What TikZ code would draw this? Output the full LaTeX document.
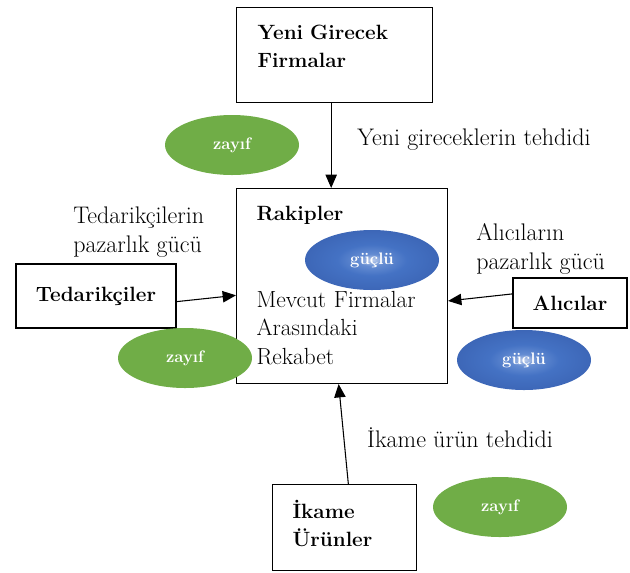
\documentclass[tikz,border=0pt]{standalone}
\usepackage{tikz}
\usetikzlibrary{shapes.geometric, arrows.meta}
\definecolor{zayifgreen}{RGB}{112,173,71}
\definecolor{gucluLight}{RGB}{190,206,236}
\definecolor{gucluSoft}{RGB}{100,140,210}
\definecolor{gucluMid}{RGB}{68,114,196}
\definecolor{gucluDeep}{RGB}{58,98,178}
\definecolor{gucluDark}{RGB}{42,76,145}
\pgfdeclareradialshading{gucluball}{\pgfpoint{0bp}{0bp}}{color(0bp)=(gucluLight); color(5bp)=(gucluSoft); color(13bp)=(gucluMid); color(30bp)=(gucluDeep); color(50bp)=(gucluDark)}
\tikzset{
    forcebox/.style={rectangle, draw=black, line width=0.8pt, inner ysep=0pt, align=left, font=\fontsize{15.5}{21.3}\selectfont\bfseries},
    rivalbox/.style={rectangle, draw=black, line width=0.8pt, inner ysep=0pt, align=left, font=\fontsize{17.5}{21.4}\selectfont},
    zayif/.style={ellipse, fill=zayifgreen, minimum width=100.5pt, minimum height=45pt, inner sep=0pt, text=white, font=\fontsize{12.5}{14}\selectfont\bfseries},
    guclu/.style={ellipse, shade, shading=gucluball, minimum width=100.5pt, minimum height=45pt, inner sep=0pt, text=white, font=\fontsize{12.5}{14}\selectfont\bfseries},
    forcelabel/.style={inner sep=0pt, align=left, font=\fontsize{18}{21.8}\selectfont},
    arrow/.style={line width=0.8pt, -{Triangle[length=10pt, width=8.5pt]}}
}
\begin{document}
\begin{tikzpicture}[x=0.75pt, y=-0.75pt]
    \useasboundingbox (0,0) rectangle (630,572);

    \node (yeni) [forcebox, anchor=north west, text width=115.5pt, inner xsep=15.75pt, text height=24pt, text depth=47.25pt] at (236,7) {Yeni Girecek\\Firmalar};
    \node (rakip) [rivalbox, anchor=north west, text width=128.25pt, inner xsep=15pt, text height=24pt, text depth=122.25pt] at (236,188) {{\fontsize{15.5}{21.4}\selectfont\bfseries Rakipler}\\[43.5pt]Mevcut Firmalar\\Arasındaki\\Rekabet};
    \node (tedarik) [forcebox, minimum width=120pt, minimum height=48pt, inner sep=0pt] at (96,296) {Tedarikçiler};
    \node (alici) [forcebox, minimum width=85.5pt, minimum height=37.5pt, inner sep=0pt] at (570,303) {Alıcılar};
    \node (ikame) [forcebox, anchor=north west, text width=78pt, inner xsep=15pt, text height=25.5pt, text depth=39pt] at (272,484) {İkame\\Ürünler};

    \draw [arrow] (yeni.-94) -- (yeni.-94 |- rakip.north);
    \draw [arrow] (tedarik.-4) -- (rakip.185);
    \draw [arrow] (alici.171) -- (rakip.-8);
    \draw [arrow] (ikame.85) -- (rakip.-92);

    \node (tehdit1) [forcelabel] at (474,140) {Yeni gireceklerin tehdidi};
    \node (pazarlik1) [forcelabel, anchor=west] at (73,232) {Tedarikçilerin\\pazarlık gücü};
    \node (pazarlik2) [forcelabel, anchor=west] at (476,249) {Alıcıların\\pazarlık gücü};
    \node (tehdit2) [forcelabel] at (460,438) {İkame ürün tehdidi};

    \node (zayif1) [zayif] at (232,145) {zayıf};
    \node (zayif2) [zayif] at (185,358) {zayıf};
    \node (zayif3) [zayif] at (500,507) {zayıf};
    \node (guclu1) [guclu] at (372,260) {güçlü};
    \node (guclu2) [guclu] at (524,360) {güçlü};
\end{tikzpicture}
\end{document}
